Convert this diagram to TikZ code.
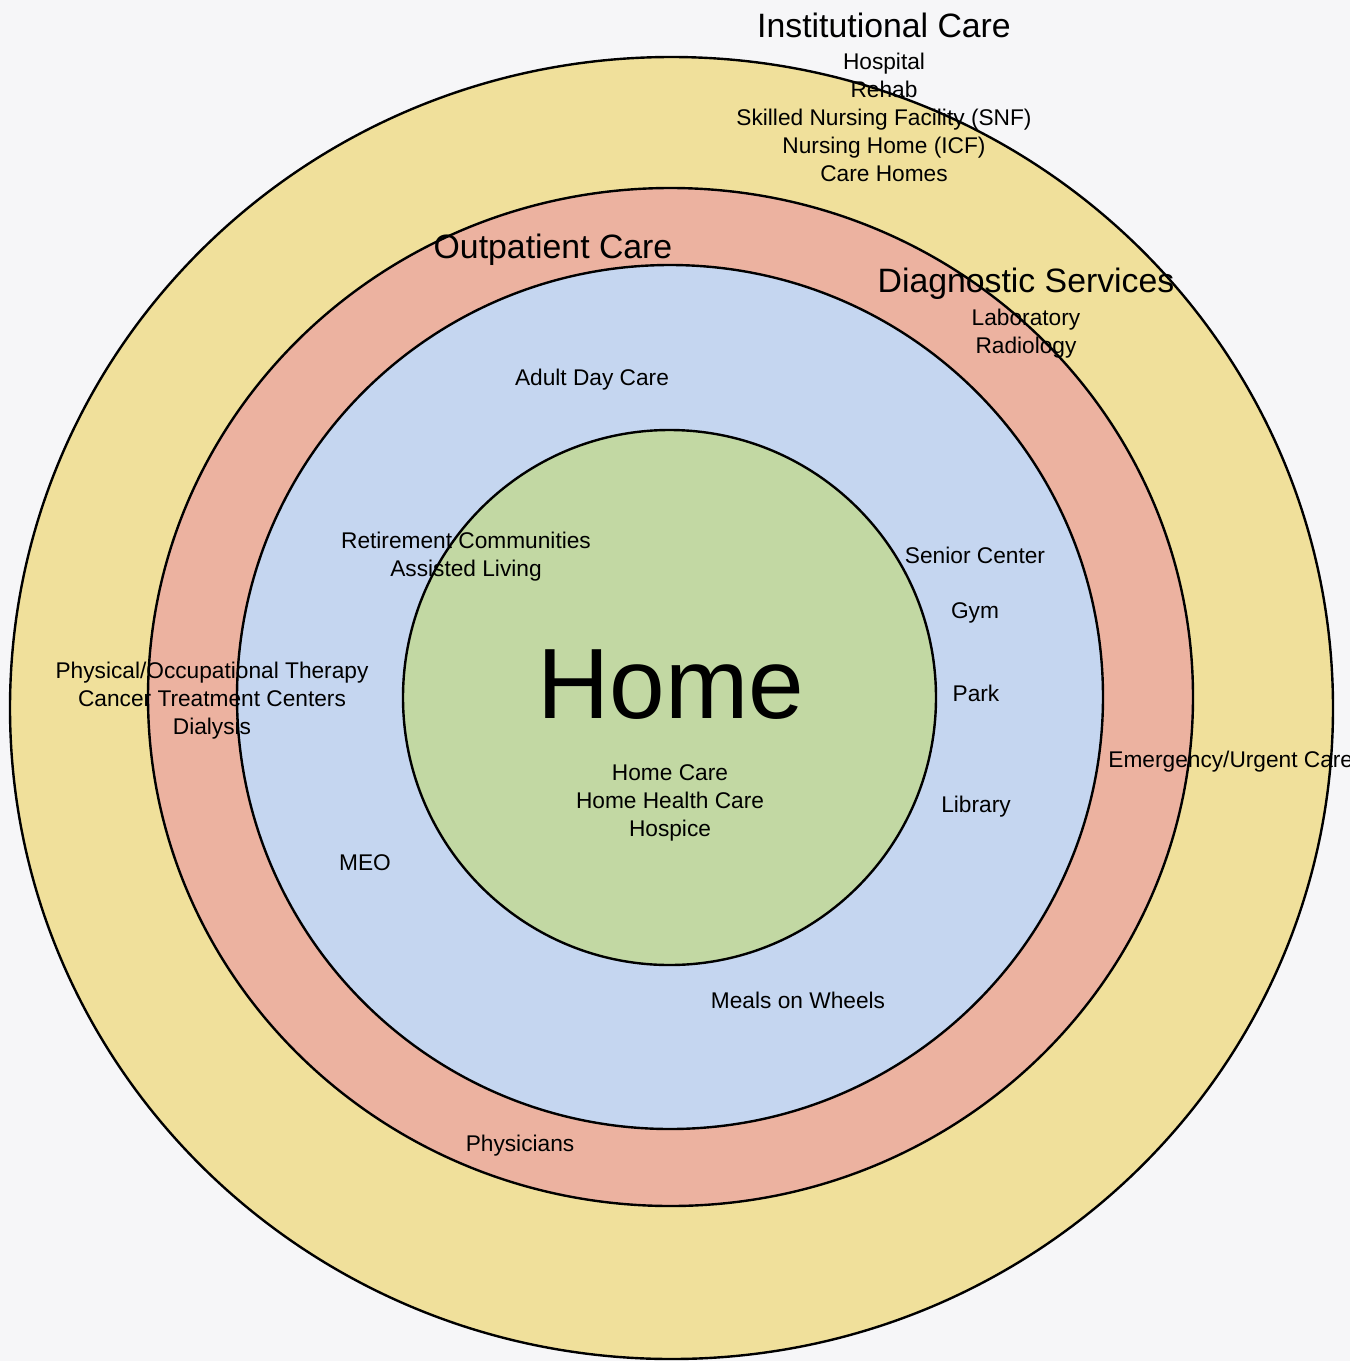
\documentclass[tikz,border=0pt]{standalone}
\usepackage{fontspec}
\setmainfont{Liberation Sans}
\definecolor{paper}{RGB}{246,246,248}
\definecolor{institutional}{RGB}{240,224,155}
\definecolor{outpatient}{RGB}{236,178,160}
\definecolor{community}{RGB}{197,214,240}
\definecolor{homecol}{RGB}{194,216,163}
\begin{document}
\begin{tikzpicture}[x=0.5pt,y=-0.5pt,
		ring/.style={draw=black,line width=1.2pt},
		small/.style={font=\fontsize{11.35}{14}\selectfont,align=center,inner sep=0pt},
		heading/.style={font=\fontsize{16.9}{20}\selectfont,inner sep=0pt}]
			\useasboundingbox[fill=paper] (0,0) rectangle (1350,1361);
			
			\draw[ring,fill=institutional] (671.5,708) ellipse [x radius=661.5,y radius=651];
			\draw[ring,fill=outpatient] (670.5,697) ellipse [x radius=522.5,y radius=509];
			\draw[ring,fill=community] (670,697) ellipse [x radius=433,y radius=432];
			\draw[ring,fill=homecol] (669.5,697.5) ellipse [x radius=266.5,y radius=267.5];
			
			\begin{scope}[every node/.style={heading}]
			\node (inst) at (884, 25) 	{Institutional Care};
			\node (outp) at (553, 250) 	{Outpatient Care};
			\node (diag) at (1026, 284) {Diagnostic Services};
			\end{scope}
			
			\node[inner sep=0pt,font=\fontsize{50}{52}\selectfont] (home) at (671, 685) {Home};
			
			\begin{scope}[every node/.style={small}]
			\node (inst-list) at (884, 117) {Hospital\\Rehab\\Skilled Nursing Facility (SNF)\\Nursing Home (ICF)\\Care Homes};
			\node (diag-list) at (1026, 334) {Laboratory\\Radiology};
			
			\node (adc) at (592, 380) 	{Adult Day Care};
			\node (ret) at (466, 557) 	{Retirement Communities\\Assisted Living};
			\node (sen) at (975, 555) 	{Senior Center};
			\node (gym) at (975, 613) 	{Gym};
			\node (park) at (976, 693) 	{Park};
			\node (lib) at (976, 807) 	{Library};
			\node (meo) at (365, 863) 	{MEO};
			\node (mow) at (798, 1000) 	{Meals on Wheels};
			
			\node (home-list) at (670, 803) {Home Care\\Home Health Care\\Hospice};
			
			\node (outp-list) at (212, 701) {Physical/Occupational Therapy\\Cancer Treatment Centers\\Dialysis};
			\node (phys) at (520, 1146) {Physicians};
			\node[anchor=west] (emerg) at (1108, 762) {Emergency/Urgent Care};
			\end{scope}
		\end{tikzpicture}
\end{document}
